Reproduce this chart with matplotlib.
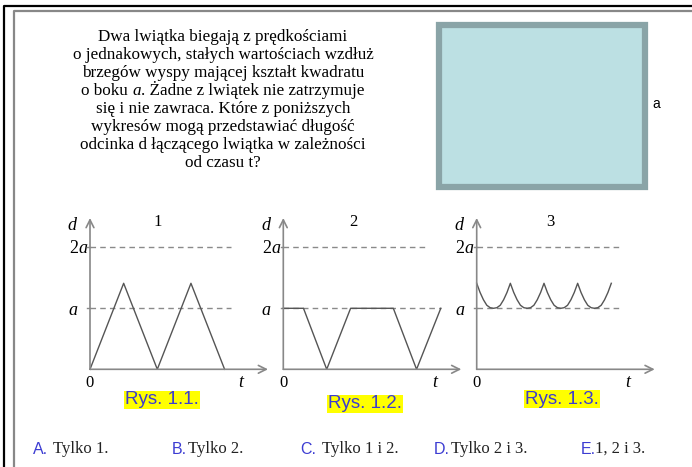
import matplotlib.pyplot as plt
from matplotlib.patches import Rectangle

plt.rcParams['mathtext.fontset'] = 'custom'
plt.rcParams['mathtext.rm'] = 'Liberation Serif'
plt.rcParams['mathtext.it'] = 'Liberation Serif:italic'

# Dane (d w jednostkach a, t w jednostkach umownych)
t1 = [0, 1, 2, 3, 4]
d1 = [0, 1.41, 0, 1.41, 0]

t2 = [0, 0.6, 1.29, 2.0, 3.27, 3.96, 4.68]
d2 = [1, 1, 0, 1, 1, 0, 1]

t3 = [0, 0.1, 0.2, 0.3, 0.4, 0.5, 0.6, 0.7, 0.8, 0.9,
      1.0, 1.1, 1.2, 1.3, 1.4, 1.5, 1.6, 1.7, 1.8, 1.9,
      2.0, 2.1, 2.2, 2.3, 2.4, 2.5, 2.6, 2.7, 2.8, 2.9,
      3.0, 3.1, 3.2, 3.3, 3.4, 3.5, 3.6, 3.7, 3.8, 3.9, 4.0]
d3 = [1.41, 1.26, 1.14, 1.05, 1.01, 1.0, 1.01, 1.05, 1.14, 1.26,
      1.41, 1.26, 1.14, 1.05, 1.01, 1.0, 1.01, 1.05, 1.14, 1.26,
      1.41, 1.26, 1.14, 1.05, 1.01, 1.0, 1.01, 1.05, 1.14, 1.26,
      1.41, 1.26, 1.14, 1.05, 1.01, 1.0, 1.01, 1.05, 1.14, 1.26, 1.41]

panele = [(t1, d1), (t2, d2), (t3, d3)]
numery = ['1', '2', '3']
podpisy = ['Rys. 1.1.', 'Rys. 1.2.', 'Rys. 1.3.']
odpowiedzi = [('A.', 'Tylko 1.'), ('B.', 'Tylko 2.'), ('C.', 'Tylko 1 i 2.'),
              ('D.', 'Tylko 2 i 3.'), ('E.', '1, 2 i 3.')]

tresc = ["Dwa lwiątka biegają z prędkościami",
         "o jednakowych, stałych wartościach wzdłuż",
         "brzegów wyspy mającej kształt kwadratu",
         None,
         "się i nie zawraca. Które z poniższych",
         "wykresów mogą przedstawiać długość",
         "odcinka d łączącego lwiątka w zależności",
         "od czasu t?"]
linia4 = [("o boku ", 'normal'), ("a", 'italic'),
          (". Żadne z lwiątek nie zatrzymuje", 'normal')]

W, H = 692, 467
fig = plt.figure(figsize=(W / 100, H / 100), dpi=100)

# tło w pikselach
bg = fig.add_axes([0, 0, 1, 1])
bg.set_xlim(0, W)
bg.set_ylim(H, 0)
bg.axis('off')

# ramki
bg.plot([4, 4, W], [H, 6, 6], color='black', lw=1.6)
bg.plot([14, 14, W], [H, 11, 11], color='#888888', lw=1.6)

serif = 'Liberation Serif'
fs = 12.3
for k, linia in enumerate(tresc):
    if linia is not None:
        bg.text(223, 41 + k * 18.0, linia, ha='center', va='baseline',
                family=serif, fontsize=fs)

# linia 4 z kursywą – składana z kawałków
r = fig.canvas.get_renderer()
kawalki = []
for s, st in linia4:
    tx = bg.text(0, 41 + 3 * 18.0, s, ha='left', va='baseline',
                 family=serif, fontsize=fs, fontstyle=st)
    kawalki.append((tx, tx.get_window_extent(r).width))
x = 223 - sum(w for _, w in kawalki) / 2
for tx, w in kawalki:
    tx.set_x(x)
    x += w

# kwadrat wyspy
bg.add_patch(Rectangle((439, 24.5), 205.5, 162, facecolor='#bce0e3',
                       edgecolor='#8aa4a7', lw=4.5))
bg.text(652, 104, 'a', family='Liberation Sans', fontsize=10,
        va='center', ha='left')

ox_list = [90, 283.3, 476.7]
oy = 369.3
px_t = 33.65
px_d = 61.0
ax_w, ax_h = 178, 151.3
blue = '#3c3cd2'

for i, (tt, dd) in enumerate(panele):
    ox = ox_list[i]
    ax = fig.add_axes([ox / W, (H - oy) / H, ax_w / W, ax_h / H])
    ax.set_xlim(0, ax_w / px_t)
    ax.set_ylim(0, ax_h / px_d)
    ax.axis('off')
    ax.patch.set_alpha(0)
    dash_end = 4.18 if i == 0 else (4.2 if i == 1 else 4.22)
    for lvl in [1, 2]:
        end = 4.7 if (i == 1 and lvl == 1) else dash_end
        ax.plot([0, end], [lvl, lvl], color='#8a8a8a', lw=1.0,
                dashes=(4, 3), clip_on=False)
        ax.plot([-0.08, 0], [lvl, lvl], color='#8a8a8a', lw=1.0, clip_on=False)
    ax.plot(tt, dd, color='#555555', lw=1.0, clip_on=False)
    ax.annotate('', xy=(1, 0), xytext=(0, 0), xycoords='axes fraction',
                arrowprops=dict(arrowstyle='->', color='#888888', lw=1.2,
                                shrinkA=0, shrinkB=0,
                                mutation_scale=14))
    ax.annotate('', xy=(0, 1), xytext=(0, 0), xycoords='axes fraction',
                arrowprops=dict(arrowstyle='->', color='#888888', lw=1.2,
                                shrinkA=0, shrinkB=0,
                                mutation_scale=14))

    # opisy osi (w pikselach)
    bg.text(ox - 17, 225, '$d$', ha='center', va='center', fontsize=13)
    bg.text(ox - 2, 248, '$2a$', ha='right', va='center', fontsize=13)
    bg.text(ox - 17, 310, '$a$', ha='center', va='center', fontsize=13)
    bg.text(ox, 383, '0', ha='center', va='center', family=serif, fontsize=12)
    bg.text(ox + 152, 382, '$t$', ha='center', va='center', fontsize=13)
    bg.text(ox + [68, 70, 74][i], 222, numery[i], ha='center', va='center',
            family=serif, fontsize=12)

# podpisy rysunków
rys_xy = [(162, 400), (365, 404), (562, 399)]
for (x, y), s in zip(rys_xy, podpisy):
    bg.text(x, y, s, ha='center', va='center', family='Liberation Sans',
            fontsize=13.5, color=blue,
            bbox=dict(facecolor='#ffff00', edgecolor='none', pad=0.6))

# odpowiedzi
lit_x = [33, 172, 300, 434, 581]
txt_x = [53, 188, 322, 451, 595]
for (lit, txt), lx, tx in zip(odpowiedzi, lit_x, txt_x):
    bg.text(lx, 449, lit, ha='left', va='center', family='Liberation Sans',
            fontsize=11.5, color=blue)
    bg.text(tx, 449, txt, ha='left', va='center', family=serif,
            fontsize=12, color='#222222')

fig.savefig('out.png', dpi=100)
